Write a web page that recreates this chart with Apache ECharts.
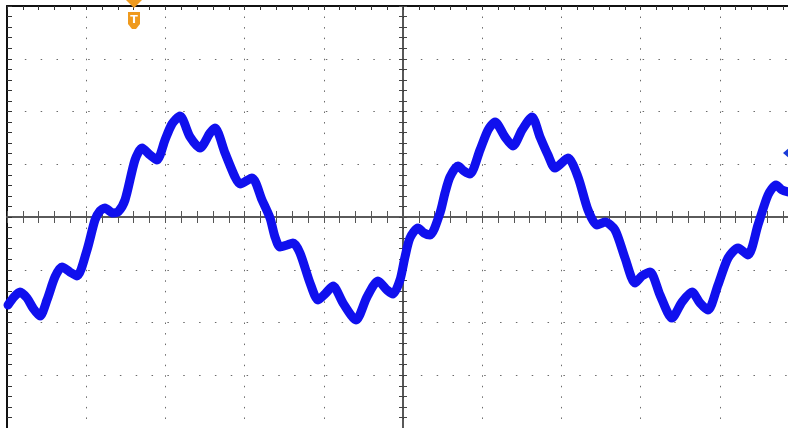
<!DOCTYPE html>
<html>
<head>
<meta charset="utf-8">
<script src="https://cdn.jsdelivr.net/npm/echarts@6/dist/echarts.min.js"></script>
<style>
  html, body { margin: 0; padding: 0; background: #ffffff; }
  #chart { width: 788px; height: 428px; }
</style>
</head>
<body>
<div id="chart"></div>
<script>
// Time in horizontal divisions (centre of screen = 0), voltage in vertical divisions
const timeDiv = [
  -4.987, -4.912, -4.836, -4.747, -4.672, -4.583, -4.495, -4.394, -4.306, -4.205,
  -4.116, -3.990, -3.889, -3.826, -3.763, -3.662, -3.598, -3.510, -3.384, -3.295,
  -3.194, -3.106, -3.005, -2.917, -2.816, -2.689, -2.563, -2.437, -2.374, -2.247,
  -2.121, -2.058, -1.907, -1.780, -1.679, -1.616, -1.553, -1.465, -1.389, -1.301,
  -1.174, -1.073, -0.985, -0.884, -0.758, -0.593, -0.455, -0.316, -0.202, -0.126,
  -0.038, 0.025, 0.088, 0.189, 0.265, 0.341, 0.467, 0.530, 0.593, 0.694,
  0.770, 0.846, 0.972, 1.073, 1.162, 1.288, 1.389, 1.503, 1.629, 1.730,
  1.831, 1.919, 2.083, 2.210, 2.336, 2.449, 2.551, 2.677, 2.803, 2.929,
  3.018, 3.119, 3.245, 3.396, 3.523, 3.649, 3.750, 3.851, 3.977, 4.104,
  4.230, 4.356, 4.482, 4.609, 4.710, 4.785, 4.861
];
const voltDiv = [
  -1.668, -1.517, -1.422, -1.536, -1.725, -1.877, -1.573, -1.137, -0.948, -1.043,
  -1.118, -0.626, -0.057, 0.114, 0.171, 0.076, 0.095, 0.322, 1.081, 1.308,
  1.175, 1.081, 1.460, 1.763, 1.915, 1.517, 1.308, 1.592, 1.687, 1.213,
  0.758, 0.626, 0.739, 0.322, -0.019, -0.379, -0.569, -0.531, -0.493, -0.682,
  -1.251, -1.573, -1.460, -1.308, -1.630, -1.953, -1.517, -1.213, -1.384, -1.460,
  -1.194, -0.758, -0.398, -0.209, -0.303, -0.341, 0.076, 0.455, 0.758, 0.967,
  0.872, 0.815, 1.270, 1.649, 1.801, 1.517, 1.346, 1.649, 1.896, 1.517,
  1.175, 0.929, 1.118, 0.758, 0.133, -0.152, -0.095, -0.246, -0.777, -1.251,
  -1.118, -1.043, -1.479, -1.915, -1.611, -1.422, -1.630, -1.763, -1.289, -0.777,
  -0.588, -0.720, -0.152, 0.417, 0.607, 0.512, 0.474
];
// visible part of the 10-division screen (right edge is cropped in the picture)
const xRange = [-5, 4.861];
const yRange = [-4, 4];

const trace = timeDiv.map((t, i) => [t, voltDiv[i]]);

const chart = echarts.init(document.getElementById('chart'), null, { renderer: 'canvas' });

const dotV = { color: '#6a6a6a', width: 1, type: [1.5, 9.05] };
const dotH = { color: '#6a6a6a', width: 1, type: [1.5, 14.34], dashOffset: -2 };
const none = { show: false };

chart.setOption({
  animation: false,
  backgroundColor: '#ffffff',
  grid: { left: 7, top: 6, right: 0, bottom: 0, containLabel: false },
  xAxis: [
    { type: 'value', min: xRange[0], max: xRange[1], interval: 1, position: 'bottom',
      axisLine: { show: false, onZero: false }, axisTick: none, axisLabel: none,
      splitLine: { show: true, lineStyle: dotV } },
    { type: 'value', min: xRange[0], max: xRange[1], interval: 0.2, position: 'top',
      axisLine: { show: true, onZero: false, lineStyle: { color: '#111', width: 2 } },
      axisTick: { show: true, inside: true, length: 4, lineStyle: { color: '#333' } },
      axisLabel: none, splitLine: none },
    { type: 'value', min: xRange[0], max: xRange[1], interval: 0.2, position: 'bottom',
      axisLine: { show: true, onZero: true, onZeroAxisIndex: 0, lineStyle: { color: '#5a5a5a', width: 2 } },
      axisTick: { show: true, inside: true, length: 6, lineStyle: { color: '#555' } },
      axisLabel: none, splitLine: none },
    { type: 'value', min: xRange[0], max: xRange[1], interval: 0.2, position: 'top',
      axisLine: { show: false, onZero: true, onZeroAxisIndex: 0 },
      axisTick: { show: true, inside: true, length: 6, lineStyle: { color: '#555' } },
      axisLabel: none, splitLine: none }
  ],
  yAxis: [
    { type: 'value', min: yRange[0], max: yRange[1], interval: 1, position: 'left',
      axisLine: { show: false, onZero: false }, axisTick: none, axisLabel: none,
      splitLine: { show: true, lineStyle: dotH } },
    { type: 'value', min: yRange[0], max: yRange[1], interval: 0.2, position: 'left',
      axisLine: { show: true, onZero: false, lineStyle: { color: '#111', width: 2 } },
      axisTick: { show: true, inside: true, length: 5, lineStyle: { color: '#333' } },
      axisLabel: none, splitLine: none },
    { type: 'value', min: yRange[0], max: yRange[1], interval: 0.2, position: 'left',
      axisLine: { show: true, onZero: true, onZeroAxisIndex: 0, lineStyle: { color: '#222', width: 1.5 } },
      axisTick: { show: true, inside: true, length: 4, lineStyle: { color: '#444' } },
      axisLabel: none, splitLine: none },
    { type: 'value', min: yRange[0], max: yRange[1], interval: 0.2, position: 'right',
      axisLine: { show: false, onZero: true, onZeroAxisIndex: 0 },
      axisTick: { show: true, inside: true, length: 4, lineStyle: { color: '#444' } },
      axisLabel: none, splitLine: none }
  ],
  series: [
    {
      type: 'line', xAxisIndex: 0, yAxisIndex: 0,
      data: trace, showSymbol: false, smooth: 0.25, clip: false,
      lineStyle: { color: '#1010ee', width: 9, cap: 'round', join: 'round' },
      z: 10
    }
  ],
  graphic: [
    { type: 'polygon', shape: { points: [[126, 0], [142, 0], [134, 8]] },
      style: { fill: '#ef9a1e' }, z: 100 },
    { type: 'polygon', shape: { points: [[128, 12], [140, 12], [140, 24], [136, 29], [132, 29], [128, 24]] },
      style: { fill: '#ef9a1e' }, z: 100 },
    { type: 'text', x: 134, y: 20,
      style: { text: 'T', fill: '#ffffff', font: 'bold 11px "DejaVu Sans", sans-serif', align: 'center', verticalAlign: 'middle' },
      z: 101 },
    { type: 'polygon', shape: { points: [[783, 153], [789, 148], [789, 158]] },
      style: { fill: '#1a3cd8' }, z: 100 }
  ]
});
</script>
</body>
</html>
